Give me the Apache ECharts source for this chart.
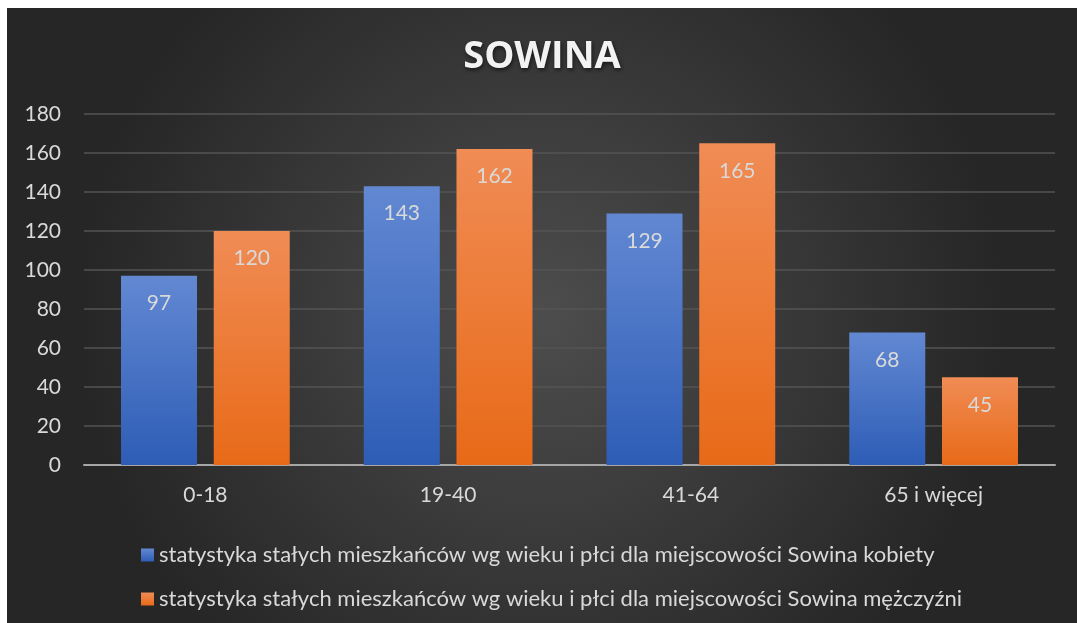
<!DOCTYPE html>
<html><head><meta charset="utf-8">
<script src="https://cdn.jsdelivr.net/npm/echarts@6/dist/echarts.min.js"></script>
<style>
html,body{margin:0;padding:0;background:#fff;width:1077px;height:623px;overflow:hidden}
#c{position:absolute;left:7px;top:8px;width:1070px;height:615px}
</style></head><body>
<div id="c"></div>
<script>
const title = 'SOWINA';
const categories = ['0-18', '19-40', '41-64', '65 i więcej'];
const seriesNames = [
  'statystyka stałych mieszkańców wg wieku i płci dla miejscowości Sowina kobiety',
  'statystyka stałych mieszkańców wg wieku i płci dla miejscowości Sowina mężczyźni'
];
const kobiety = [97, 143, 129, 68];
const mezczyzni = [120, 162, 165, 45];

const FONT = 'Lato, "Open Sans", sans-serif';
const chart = echarts.init(document.getElementById('c'));
function grad(top, bottom){
  return new echarts.graphic.LinearGradient(0,0,0,1,[{offset:0,color:top},{offset:1,color:bottom}]);
}
const labelStyle = {show:true, position:'insideTop', distance:17, color:'#d9d9d9', fontSize:21, fontFamily:FONT};
chart.setOption({
  animation:false,
  backgroundColor: new echarts.graphic.RadialGradient(0.5,0.5,0.75,[{offset:0,color:'#4d4d4d'},{offset:1,color:'#262626'}]),
  title:{text:title,left:'center',top:25,textStyle:{color:'#f2f2f2',fontSize:38,fontWeight:'bold',fontFamily:'"Open Sans", sans-serif',
    textShadowColor:'rgba(0,0,0,0.6)',textShadowBlur:4,textShadowOffsetX:1,textShadowOffsetY:2}},
  grid:{left:77,right:22,top:106,bottom:158,containLabel:false},
  legend:{orient:'vertical',left:129,top:531,itemGap:22,itemWidth:13,itemHeight:13,icon:'rect',
    textStyle:{color:'#d9d9d9',fontSize:22,fontFamily:FONT}},
  xAxis:{type:'category',data:categories,axisTick:{show:false},
    axisLine:{lineStyle:{color:'#a6a6a6',width:2}},
    axisLabel:{color:'#d9d9d9',fontSize:21,fontFamily:FONT,margin:20}},
  yAxis:{type:'value',min:0,max:180,interval:20,axisLine:{show:false},axisTick:{show:false},
    splitLine:{lineStyle:{color:'#555555',width:1.5}},
    axisLabel:{color:'#d9d9d9',fontSize:21,fontFamily:FONT,margin:23}},
  series:[
    {name:seriesNames[0],type:'bar',data:kobiety,barWidth:76,barGap:'22%',
      itemStyle:{color:grad('#6288d2','#2e5db6')},label:labelStyle},
    {name:seriesNames[1],type:'bar',data:mezczyzni,barWidth:76,
      itemStyle:{color:grad('#f08c55','#e86a18')},label:labelStyle}
  ]
});
</script></body></html>
